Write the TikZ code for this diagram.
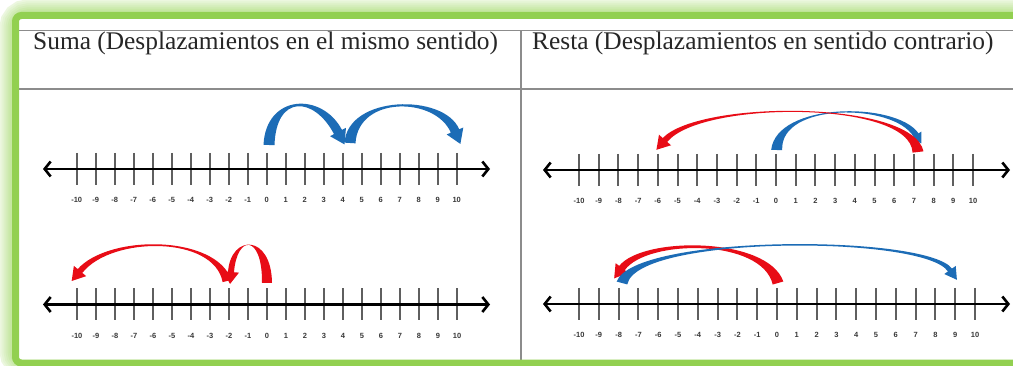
\documentclass[tikz,border=0pt]{standalone}
\usepackage{fontspec}
\setmainfont{Liberation Serif}
\newfontfamily\numfont{Liberation Sans}
\usetikzlibrary{calc,arrows.meta}
\definecolor{frameGreen}{RGB}{146,208,80}
\definecolor{glowGreen}{RGB}{190,228,150}
\definecolor{arcBlue}{RGB}{28,108,182}
\definecolor{arcRed}{RGB}{232,12,22}
\definecolor{lineGray}{RGB}{140,140,140}
\definecolor{tickGray}{RGB}{95,95,95}

% color, prefix, wA, wC1, wC2, wB, head half width, head length
\newcommand\ribbonarrow[8]{%
 \fill[#1] ($(#2a)!#3!90:(#2c)$) .. controls ($(#2c)!#4!-90:(#2a)$) and ($(#2d)!#5!90:(#2b)$) .. ($(#2b)!#6!-90:(#2d)$)
 -- ($(#2b)!#7!-90:(#2d)$) -- ($(#2b)!-#8!(#2d)$) -- ($(#2b)!#7!90:(#2d)$) -- ($(#2b)!#6!90:(#2d)$)
 .. controls ($(#2d)!#5!-90:(#2b)$) and ($(#2c)!#4!90:(#2a)$) .. ($(#2a)!#3!-90:(#2c)$) -- cycle;}

% prefix, x of -10, step, y axis, x left tip, x right tip
\newcommand\numline[6]{%
 \coordinate (#1-l) at (#5,#4);
 \coordinate (#1-r) at (#6,#4);
 \foreach \i in {-10,...,10} {
   \pgfmathsetmacro\xx{#2+(\i+10)*#3}
   \draw[tickline] (\xx,#4-16) -- (\xx,#4+16);
   \node[numlbl, name=#1-n\i] at (\xx,#4+31) {\i};
 }
 \draw[axisline] (#1-l) -- (#1-r);
}

\tikzset{
  tickline/.style={tickGray, line width=2pt},
  axisline/.style={black, line width=2.6pt, {Straight Barb[length=6pt,width=15pt]}-{Straight Barb[length=6pt,width=15pt]}},
  numlbl/.style={font=\numfont\fontsize{7.5}{8}\selectfont\bfseries, text=tickGray!60!black, inner sep=0pt},
  tablerule/.style={lineGray, line width=1.4pt},
  header/.style={font=\fontsize{25.4}{29}\selectfont, text=black!85, anchor=base west, inner sep=0pt},
}

\begin{document}
\begin{tikzpicture}[x=1pt,y=-1pt]
\useasboundingbox (0,0) rectangle (1013,366);
\fill[white] (0,0) rectangle (1013,366);

% glow
\foreach \w/\c in {32/30, 28/42, 24/54, 20/66, 16/78, 12/90}
  \draw[glowGreen!\c!white, line width=\w pt, rounded corners=12pt] (15.5,15.5) rectangle (1030,363);

\fill[white] (15.5,15.5) rectangle (1030,363);

% table
\draw[tablerule] (19,30.5) -- (1013,30.5);
\draw[tablerule] (19,89) -- (1013,89);
\draw[tablerule] (521,30.5) -- (521,363);

\node[header, name=hsuma] at (33,50) {Suma (Desplazamientos en el mismo sentido)};
\node[header, name=hresta] at (532,50) {Resta (Desplazamientos en sentido contrario)};

% number lines
\numline{tl}{76.7}{19}{169}{43}{490}
\numline{bl}{77}{19}{304.5}{43}{490}
\numline{tr}{579}{19.7}{170}{543}{1010}
\numline{br}{579}{19.8}{304}{543}{1010}

% top-left: blue jumps
\coordinate (p1-a) at (269,145); \coordinate (p1-c) at (271,94);
\coordinate (p1-d) at (318,94); \coordinate (p1-b) at (338,132);
\ribbonarrow{arcBlue}{p1-}{5.5pt}{5pt}{4.5pt}{4.5pt}{9pt}{14pt}
\coordinate (p2-a) at (350,143); \coordinate (p2-c) at (353,95);
\coordinate (p2-d) at (440,95); \coordinate (p2-b) at (455,131);
\ribbonarrow{arcBlue}{p2-}{5.5pt}{5pt}{4.5pt}{4.5pt}{9pt}{14pt}

% bottom-left: red jumps
\coordinate (p3-a) at (227,281); \coordinate (p3-c) at (215,235);
\coordinate (p3-d) at (110,235); \coordinate (p3-b) at (80,271);
\ribbonarrow{arcRed}{p3-}{4.5pt}{1pt}{1.5pt}{3pt}{8pt}{13pt}
\coordinate (p4-a) at (267,283); \coordinate (p4-c) at (267,234);
\coordinate (p4-d) at (234,234); \coordinate (p4-b) at (231,272);
\ribbonarrow{arcRed}{p4-}{5pt}{4.5pt}{3pt}{3pt}{8pt}{12pt}

% top-right
\coordinate (p5-a) at (776.7,150); \coordinate (p5-c) at (778,102);
\coordinate (p5-d) at (895,102); \coordinate (p5-b) at (916,135);
\ribbonarrow{arcBlue}{p5-}{5.5pt}{1.5pt}{1.5pt}{3pt}{6.5pt}{10pt}
\coordinate (p6-a) at (918,152); \coordinate (p6-c) at (912,100);
\coordinate (p6-d) at (700,100); \coordinate (p6-b) at (665,140);
\ribbonarrow{arcRed}{p6-}{5.5pt}{1pt}{0.5pt}{3pt}{8pt}{13pt}

% bottom-right
\coordinate (p7-a) at (778,283); \coordinate (p7-c) at (765,237.5);
\coordinate (p7-d) at (645,237.5); \coordinate (p7-b) at (622,268);
\ribbonarrow{arcRed}{p7-}{5.5pt}{3pt}{2.5pt}{3.5pt}{8pt}{13pt}
\coordinate (p8-a) at (622,283); \coordinate (p8-c) at (635,234.5);
\coordinate (p8-d) at (925,234.5); \coordinate (p8-b) at (950,270);
\ribbonarrow{arcBlue}{p8-}{5.5pt}{1.5pt}{1pt}{2.5pt}{7pt}{12pt}

% frame
\draw[frameGreen, line width=7pt, rounded corners=6pt] (15.5,15.5) rectangle (1030,363);
\end{tikzpicture}
\end{document}
